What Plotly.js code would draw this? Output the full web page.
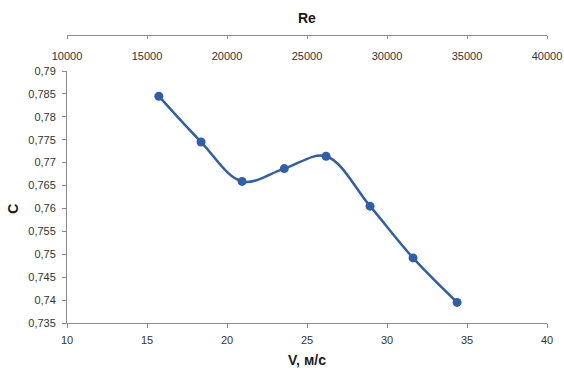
<!DOCTYPE html>
<html>
<head>
<meta charset="utf-8">
<script src="https://cdn.plot.ly/plotly-3.0.1.min.js"></script>
<style>html,body{margin:0;padding:0;background:#fff}#chart{width:564px;height:368px}</style>
</head>
<body>
<div id="chart"></div>
<script>
const velocity = [15.74, 18.38, 20.94, 23.58, 26.19, 28.94, 31.63, 34.38];
const coefC = [0.7845, 0.7745, 0.7659, 0.7687, 0.7714, 0.7605, 0.7492, 0.7395];
const yTickVals = [0.735, 0.74, 0.745, 0.75, 0.755, 0.76, 0.765, 0.77, 0.775, 0.78, 0.785, 0.79];
const yTickText = ['0,735', '0,74', '0,745', '0,75', '0,755', '0,76', '0,765', '0,77', '0,775', '0,78', '0,785', '0,79'];
const reRange = [10000, 40000];
const vRange = [10, 40];

const blue = '#2f5fa8';
const axisGray = '#8c8c8c';
const tickFont = {family: 'Liberation Sans, Arial, sans-serif', size: 11, color: '#333333'};
const titleFont = {family: 'Liberation Sans, Arial, sans-serif', size: 14, color: '#1a1a1a', weight: 'bold'};

const traces = [
  {
    x: velocity, y: coefC, type: 'scatter', mode: 'lines+markers',
    line: {color: blue, width: 2.5, shape: 'spline', smoothing: 1},
    marker: {color: blue, size: 9},
    xaxis: 'x', yaxis: 'y', showlegend: false, hoverinfo: 'x+y'
  },
  {
    x: reRange, y: [coefC[0], coefC[0]], type: 'scatter', mode: 'none',
    xaxis: 'x2', yaxis: 'y', showlegend: false, hoverinfo: 'skip'
  }
];

const layout = {
  width: 564, height: 368,
  margin: {l: 66.7, r: 17.3, t: 34.7, b: 45},
  paper_bgcolor: '#fff', plot_bgcolor: '#fff',
  showlegend: false,
  xaxis: {
    range: vRange, dtick: 5, tick0: 10,
    showgrid: false, zeroline: false,
    showline: true, linecolor: axisGray, linewidth: 1,
    ticks: 'outside', ticklen: 4, tickcolor: axisGray,
    ticklabelstandoff: 3,
    tickfont: tickFont,
    title: {text: 'V, м/с', font: titleFont, standoff: 9},
    anchor: 'y'
  },
  xaxis2: {
    range: reRange, dtick: 5000, tick0: 10000, tickformat: 'd',
    overlaying: 'x', side: 'bottom', anchor: 'free', position: 1,
    showgrid: false, zeroline: false,
    showline: true, linecolor: axisGray, linewidth: 1,
    ticks: 'outside', ticklen: 3, tickcolor: axisGray,
    ticklabelstandoff: 8,
    tickfont: tickFont
  },
  yaxis: {
    range: [0.735, 0.79], domain: [0, 0.875],
    tickmode: 'array', tickvals: yTickVals, ticktext: yTickText,
    showgrid: false, zeroline: false,
    showline: true, linecolor: axisGray, linewidth: 1,
    ticks: 'outside', ticklen: 4, tickcolor: axisGray,
    ticklabelstandoff: 4,
    tickfont: tickFont,
    anchor: 'x'
  },
  annotations: [
    {text: 'C', xref: 'paper', yref: 'paper', x: -0.113, y: 0.396, xanchor: 'center', yanchor: 'middle',
     showarrow: false, textangle: -90, font: titleFont},
    {text: 'Re', xref: 'paper', yref: 'paper', x: 0.5, y: 1.058, xanchor: 'center', yanchor: 'middle',
     showarrow: false, font: titleFont}
  ]
};

Plotly.newPlot('chart', traces, layout, {displayModeBar: false, staticPlot: true});
</script>
</body>
</html>
